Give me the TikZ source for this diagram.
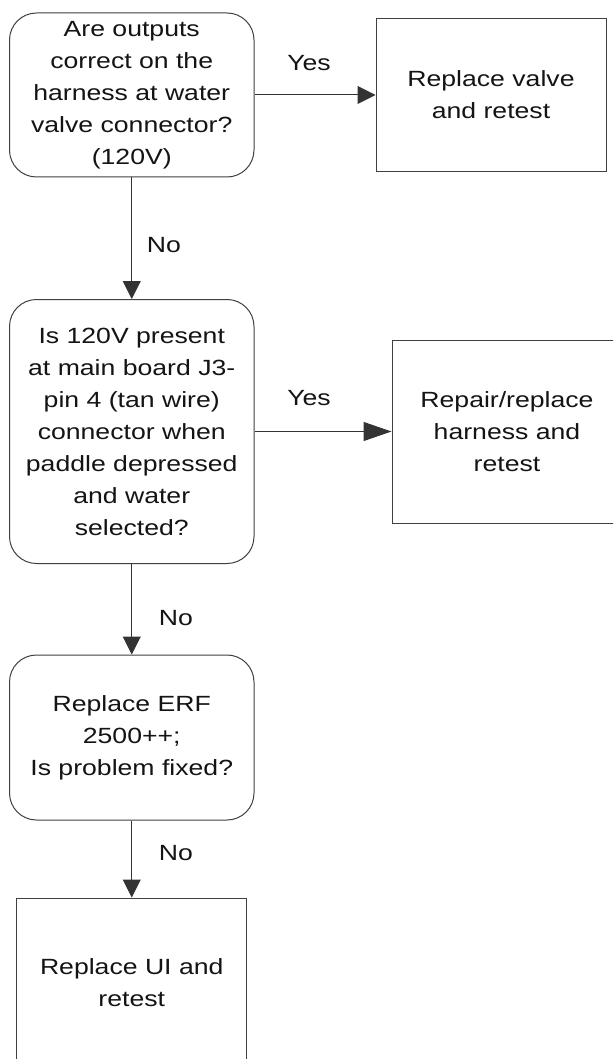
\documentclass[tikz,border=0pt]{standalone}
\usepackage{fontspec}
\setmainfont{Liberation Sans}[FakeStretch=1.21]
\usetikzlibrary{arrows.meta}
\begin{document}
\begin{tikzpicture}[x=1pt,y=-1pt,
  every node/.style={font=\fontsize{22}{32}\selectfont, align=center, inner sep=0pt, text=black!92},
  dec/.style={draw=black!75, line width=1pt, rounded corners=27pt, minimum width=244.5pt},
  act/.style={draw=black!75, line width=1pt},
  arr/.style={draw=black!80, line width=1pt, -{Triangle[length=18pt,width=18pt]}},
  arrlong/.style={draw=black!80, line width=1pt, -{Triangle[length=28pt,width=19pt]}}]
\clip (0,0) rectangle (613,1059);
\fill[white] (0,0) rectangle (613,1059);

\node[dec, minimum height=164pt] (q1) at (131.75,95) {Are outputs\\correct on the\\harness at water\\valve connector?\\(120V)};
\node[act, minimum width=230pt, minimum height=153pt] (r1) at (491,95) {Replace valve\\and retest};

\node[dec, minimum height=264pt] (q2) at (131.75,431.5) {Is 120V present\\at main board J3-\\pin 4 (tan wire)\\connector when\\paddle depressed\\and water\\selected?};
\node[act, minimum width=230pt, minimum height=183pt] (r2) at (507,431.5) {Repair/replace\\harness and\\retest};

\node[dec, minimum height=165pt] (q3) at (131.75,737.5) {Replace ERF\\2500++;\\Is problem fixed?};

\node[act, minimum width=230pt, minimum height=170pt] (r3) at (131.75,983) {Replace UI and\\retest};

\draw[arr] (q1.east) -- (r1.west);
\draw[arrlong] (q2.east) -- (r2.west);
\draw[arr] (q1.south) -- (q2.north);
\draw[arr] (q2.south) -- (q3.north);
\draw[arr] (q3.south) -- (r3.north);

\node (yes1) at (309,63) {Yes};
\node (yes2) at (309,398) {Yes};
\node (no1) at (164,245) {No};
\node (no2) at (176,618) {No};
\node (no3) at (176,853) {No};
\end{tikzpicture}
\end{document}
